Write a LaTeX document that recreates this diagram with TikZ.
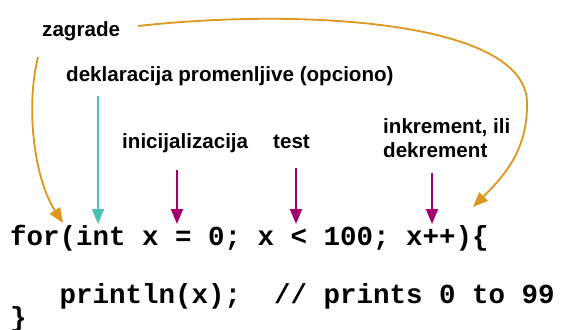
\documentclass[tikz,border=0pt]{standalone}
\usepackage{fontspec}
\setmainfont{Liberation Sans}
\newfontfamily\codefont{Liberation Mono}
\usetikzlibrary{arrows.meta}
\definecolor{zorange}{RGB}{221,151,30}
\definecolor{zteal}{RGB}{74,194,178}
\definecolor{zmag}{RGB}{163,0,108}
\tikzset{
  lbl/.style={anchor=base west,inner sep=0pt,font=\fontsize{20.6}{24}\selectfont\bfseries},
  codeln/.style={anchor=base west,inner sep=0pt,font=\fontsize{27.5}{30}\selectfont\codefont\bfseries},
  tip/.style={-{Triangle[length=15pt,width=12pt]}},
  orarrow/.style={tip,draw=zorange,line width=1.8pt},
  tlarrow/.style={tip,draw=zteal,line width=2pt},
  mgarrow/.style={tip,draw=zmag,line width=2pt},
}
\begin{document}
\begin{tikzpicture}[x=1pt,y=-1pt]
\useasboundingbox (0,0) rectangle (561,329);
% labels
\node[lbl] (zag) at (42,37) {zagrade};
\node[lbl] (dek) at (66,81) {deklaracija promenljive (opciono)};
\node[lbl] (ini) at (122,148) {inicijalizacija};
\node[lbl] (tst) at (273,148) {test};
\node[lbl] (ink) at (383,133) {inkrement, ili};
\node[lbl] (dkr) at (383,157) {dekrement};
% code
\node[codeln] (c1) at (10,245) {for(int x = 0; x < 100; x++)\{};
\node[codeln] (c2) at (10,303) {\ \ \ println(x);\ \ // prints 0 to 99};
\node[codeln] (c3) at (10,326) {\}};
% connector ends
\coordinate (zl0) at (38,57);
\coordinate (zl1) at (63,223);
\coordinate (zr0) at (138,26);
\coordinate (zrm) at (527,105);
\coordinate (zr1) at (473,207);
\coordinate (t0) at (98,96);
\coordinate (t1) at (98,224);
\coordinate (m0) at (177,170);
\coordinate (m1) at (177,224);
\coordinate (n0) at (296,168);
\coordinate (n1) at (296,224);
\coordinate (k0) at (432,173);
\coordinate (k1) at (432,224);
% arrows
\draw[orarrow] (zl0) .. controls (25,110) and (35,180) .. (zl1);
\draw[orarrow] (zr0) .. controls (300,8) and (530,20) .. (zrm) .. controls (527,150) and (505,175) .. (zr1);
\draw[tlarrow] (t0) -- (t1);
\draw[mgarrow] (m0) -- (m1);
\draw[mgarrow] (n0) -- (n1);
\draw[mgarrow] (k0) -- (k1);
\end{tikzpicture}
\end{document}
